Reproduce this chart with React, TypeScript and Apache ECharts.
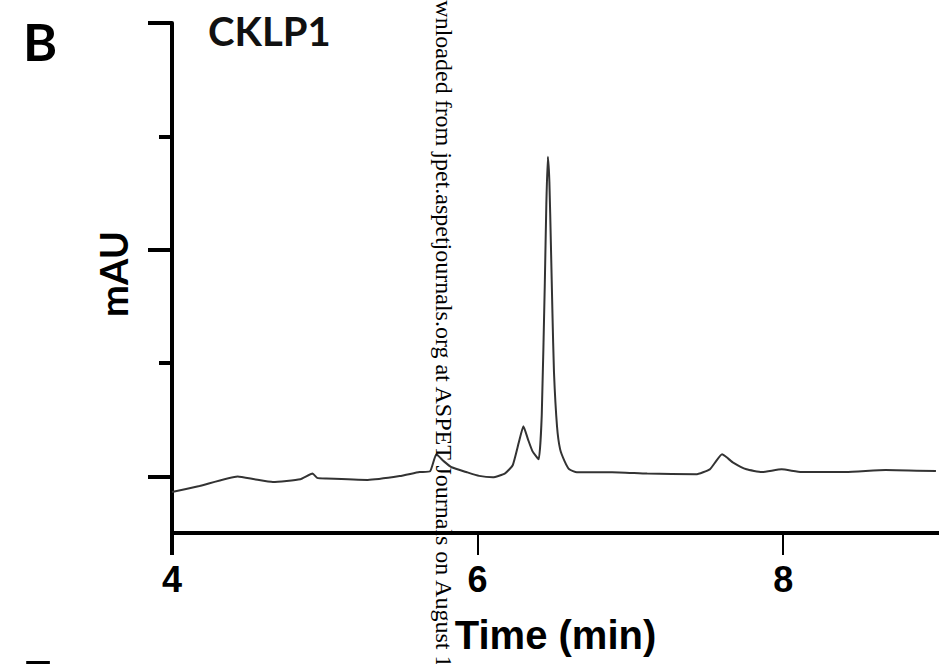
import React, { useEffect, useRef } from "react";
import * as echarts from "echarts";

const times = [4.0, 4.18, 4.43, 4.54, 4.66, 4.84, 4.92, 4.95, 5.01, 5.28, 5.49, 5.62, 5.69, 5.73, 5.78, 5.83, 5.93, 6.01, 6.1, 6.18, 6.23, 6.27, 6.3, 6.33, 6.36, 6.4, 6.42, 6.44, 6.45, 6.46, 6.47, 6.48, 6.49, 6.5, 6.52, 6.54, 6.57, 6.6, 6.65, 6.88, 7.11, 7.43, 7.52, 7.56, 7.6, 7.63, 7.67, 7.76, 7.86, 7.99, 8.12, 8.41, 8.67, 9.0];
const signal = [-0.069, -0.043, -0.001, -0.013, -0.025, -0.013, 0.012, -0.007, -0.01, -0.016, 0.001, 0.019, 0.023, 0.097, 0.066, 0.04, 0.018, 0.002, -0.004, 0.013, 0.049, 0.15, 0.221, 0.163, 0.11, 0.075, 0.27, 0.85, 1.2, 1.41, 1.3, 1.02, 0.72, 0.46, 0.22, 0.12, 0.066, 0.031, 0.018, 0.018, 0.012, 0.009, 0.031, 0.066, 0.097, 0.084, 0.062, 0.031, 0.019, 0.031, 0.019, 0.019, 0.028, 0.023];
const xTickValues = [4, 6, 8];
const yMajorTicks = [0, 1, 2];
const yMinorTicks = [0.5, 1.5];
const panelLabel = "B";
const nextPanelLabel = "E";
const chartTitle = "CKLP1";
const yTitle = "mAU";
const xTitle = "Time (min)";
const watermark = "Downloaded from jpet.aspetjournals.org at ASPET Journals on August 1";

export default function App() {
  const ref = useRef<HTMLDivElement>(null);
  useEffect(() => {
    if (!ref.current) return;
    const chart = echarts.init(ref.current, null, { renderer: "svg" });
    const data = times.map((t, i) => [t, signal[i]]);
    const sans = "'Liberation Sans', Arial, sans-serif";
    const hum = "Lato, 'Open Sans', sans-serif";
    chart.setOption({
      animation: false,
      backgroundColor: "#fff",
      grid: { left: 172, right: 0, top: 23, bottom: 131, containLabel: false },
      xAxis: [
        {
          type: "value",
          min: 4,
          max: 9.02,
          axisLine: { show: true, onZero: false, lineStyle: { color: "#000", width: 4 } },
          axisTick: { show: true, length: 22, customValues: xTickValues, lineStyle: { color: "#000", width: 2 } },
          axisLabel: { show: true, customValues: xTickValues, margin: 28, fontSize: 36, fontWeight: "bold", color: "#000", fontFamily: sans },
          splitLine: { show: false },
          name: xTitle,
          nameLocation: "middle",
          nameGap: 82,
          nameTextStyle: { fontSize: 40, fontWeight: "bold", color: "#000", fontFamily: sans },
        },
        {
          type: "value",
          min: 4,
          max: 9.02,
          position: "bottom",
          axisLine: { show: false, onZero: false },
          axisTick: { show: true, length: 22, customValues: [4], lineStyle: { color: "#000", width: 4 } },
          axisLabel: { show: false },
          splitLine: { show: false },
        },
      ],
      yAxis: [
        {
          type: "value",
          min: -0.25,
          max: 2,
          axisLine: { show: true, onZero: false, lineStyle: { color: "#000", width: 4 } },
          axisTick: { show: true, length: 24, customValues: yMajorTicks, lineStyle: { color: "#000", width: 4 } },
          axisLabel: { show: false },
          splitLine: { show: false },
        },
        {
          type: "value",
          min: -0.25,
          max: 2,
          position: "left",
          axisLine: { show: false, onZero: false },
          axisTick: { show: true, length: 13, customValues: yMinorTicks, lineStyle: { color: "#000", width: 4 } },
          axisLabel: { show: false },
          splitLine: { show: false },
        },
      ],
      series: [
        {
          type: "line",
          data,
          showSymbol: false,
          smooth: 0.15,
          lineStyle: { color: "#333", width: 2 },
          clip: true,
        },
      ],
      graphic: [
        { type: "text", x: 23, y: 41, style: { text: panelLabel, fontSize: 52, fontWeight: "bold", fontFamily: hum, fill: "#000", textVerticalAlign: "middle" } },
        { type: "text", x: 22, y: 652, style: { text: nextPanelLabel, fontSize: 52, fontWeight: "bold", fontFamily: hum, fill: "#000", textVerticalAlign: "top" } },
        { type: "text", x: 208, y: 31, style: { text: chartTitle, fontSize: 40, fontWeight: "bold", fontFamily: hum, fill: "#111", textVerticalAlign: "middle" } },
        { type: "text", x: 113, y: 274, rotation: Math.PI / 2, style: { text: yTitle, fontSize: 38, fontWeight: "bold", fontFamily: hum, fill: "#000", textAlign: "center", textVerticalAlign: "middle" } },
        { type: "text", x: 444, y: -29, rotation: -Math.PI / 2, z: 100, style: { text: watermark, fontSize: 24, fontFamily: "'Liberation Serif', 'Times New Roman', serif", fill: "#000", textAlign: "left", textVerticalAlign: "middle" } },
      ],
    });
    return () => chart.dispose();
  }, []);
  return <div ref={ref} style={{ position: "fixed", left: 0, top: 0, width: 939, height: 664 }} />;
}
